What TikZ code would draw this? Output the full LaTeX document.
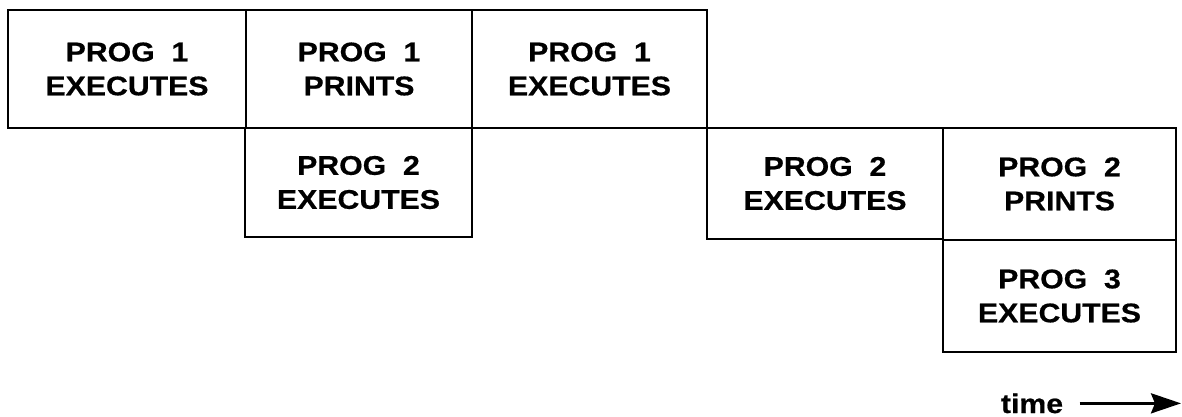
\documentclass[tikz,border=0pt]{standalone}
\usepackage{fontspec}
\newfontfamily\hv{Liberation Sans}[FakeStretch=1.12,FakeBold=0.6]
\usetikzlibrary{arrows.meta}
\begin{document}
\begin{tikzpicture}[x=0.5pt,y=-0.5pt,
  box/.style={draw, line width=1.4pt, rectangle, inner sep=0pt, align=center,
    font=\hv\bfseries\fontsize{13.5pt}{17pt}\selectfont},
  lbl/.style={inner sep=0pt, font=\hv\bfseries\fontsize{13.5pt}{17pt}\selectfont}]
\useasboundingbox (0,0) rectangle (1182,417);
% row 1
\node[box, minimum width=119pt, minimum height=59pt] (a) at (127,69) {PROG\ \ 1\\EXECUTES};
\node[box, minimum width=113pt, minimum height=59pt] (b) at (359,69) {PROG\ \ 1\\PRINTS};
\node[box, minimum width=117.5pt, minimum height=59pt] (c) at (589.5,69) {PROG\ \ 1\\EXECUTES};
% row 2
\node[box, minimum width=113.5pt, minimum height=54.5pt] (d) at (358.5,182.5) {PROG\ \ 2\\EXECUTES};
\node[box, minimum width=118pt, minimum height=55.5pt] (e) at (825,183.5) {PROG\ \ 2\\EXECUTES};
\node[box, minimum width=116.5pt, minimum height=56pt] (f) at (1059.5,184) {PROG\ \ 2\\PRINTS};
% row 3
\node[box, minimum width=116.5pt, minimum height=56pt] (g) at (1059.5,296) {PROG\ \ 3\\EXECUTES};
% time axis
\node[lbl, anchor=base] (time) at (1032,413) {time};
\coordinate (tend) at (1181,403);
\draw[line width=1.5pt, shorten <=8pt, -{Stealth[length=15pt,width=10pt,inset=2pt]}]
  (time.east) -- (time.east -| tend);
\end{tikzpicture}
\end{document}
